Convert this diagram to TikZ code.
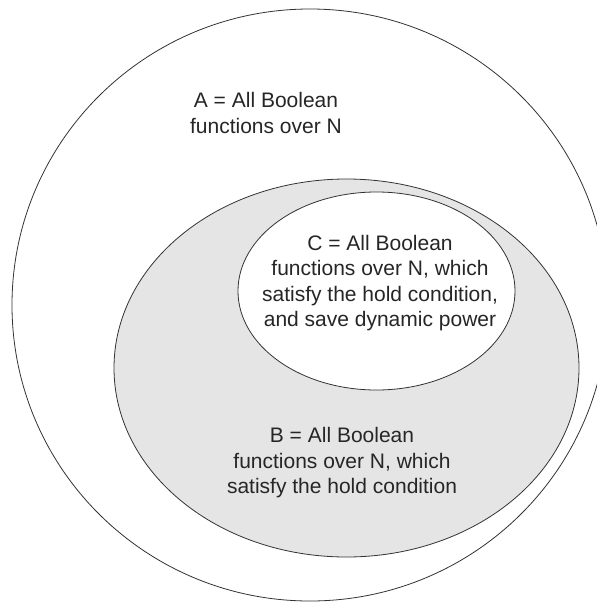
\documentclass[tikz,border=0pt]{standalone}
\usepackage{fontspec}
\setmainfont{Liberation Sans}
\usetikzlibrary{shapes.geometric}
\tikzset{
  setline/.style={draw=black!80, line width=0.8pt, ellipse, inner sep=0pt},
  lbl/.style={align=center, font=\fontsize{21}{25.5}\selectfont, text=black!85, inner sep=0pt},
}
\begin{document}
\begin{tikzpicture}[x=1pt,y=-1pt]
\useasboundingbox (0,0) rectangle (597,603);
\clip (0,0) rectangle (597,603);
\fill[white] (0,0) rectangle (597,603);
\node[setline, minimum width=596pt, minimum height=592pt] (A) at (310,305) {};
\node[setline, fill=black!10, minimum width=465pt, minimum height=378pt] (B) at (346.5,368) {};
\node[setline, fill=white, minimum width=277pt, minimum height=198pt] (C) at (376.5,291) {};
\node[lbl] (tA) at (266,113) {A = All Boolean\\functions over N};
\node[lbl] (tC) at (380,283) {C = All Boolean\\functions over N, which\\satisfy the hold condition,\\and save dynamic power};
\node[lbl] (tB) at (342,463) {B = All Boolean\\functions over N, which\\satisfy the hold condition};
\end{tikzpicture}
\end{document}
